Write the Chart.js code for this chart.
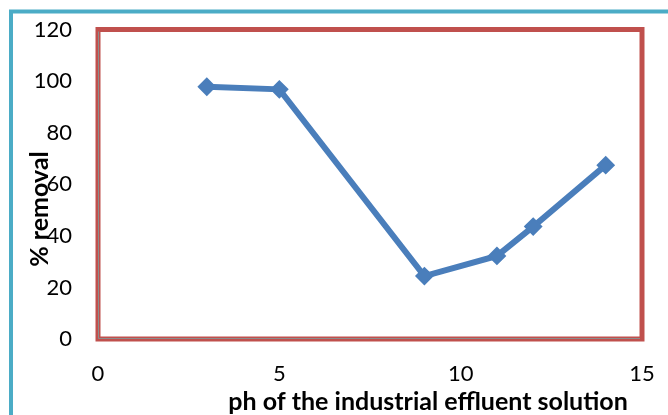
<!DOCTYPE html>
<html>
<head>
<meta charset="utf-8">
<script src="https://cdn.jsdelivr.net/npm/chart.js@4.4.1/dist/chart.umd.min.js"></script>
<style>
  html, body { margin: 0; padding: 0; background: #fff; }
  #wrap { width: 668px; height: 415px; position: relative; }
</style>
</head>
<body>
<div id="wrap"><canvas id="chart" width="668" height="415"></canvas></div>
<script>
// --- DATA ---
const phValues = [3, 5, 9, 11, 12, 14];
const removalValues = [97.8, 96.8, 24.4, 32.2, 43.6, 67.4];
const xTitle = 'ph of the industrial effluent solution';
const yTitle = '% removal';

// frame + titles drawn around the chart area
const framePlugin = {
  id: 'frame',
  beforeDraw(chart) {
    const ctx = chart.ctx;
    ctx.save();
    ctx.fillStyle = '#fff';
    ctx.fillRect(0, 0, chart.width, chart.height);
    // outer cyan border, runs off the right and bottom edges
    ctx.strokeStyle = '#4BACC6';
    ctx.lineWidth = 4;
    ctx.strokeRect(11, 11.5, 720, 480);
    ctx.restore();
  },
  beforeDatasetsDraw(chart) {
    const { ctx, chartArea: a } = chart;
    ctx.save();
    ctx.strokeStyle = '#C0504D';
    ctx.lineWidth = 5;
    ctx.strokeRect(a.left, a.top, a.right - a.left, a.bottom - a.top);
    ctx.strokeStyle = '#8c8c8c';
    ctx.lineWidth = 1;
    ctx.beginPath();
    ctx.moveTo(a.left + 0.5, a.top + 2);
    ctx.lineTo(a.left + 0.5, a.bottom - 0.5);
    ctx.lineTo(a.right - 2, a.bottom - 0.5);
    ctx.stroke();
    ctx.restore();
  },
  afterDraw(chart) {
    const ctx = chart.ctx;
    ctx.save();
    ctx.fillStyle = '#000';
    ctx.font = 'bold 25px Lato';
    ctx.textAlign = 'center';
    ctx.textBaseline = 'alphabetic';
    ctx.fillText(xTitle, 428, 410);
    ctx.translate(48, 209);
    ctx.rotate(-Math.PI / 2);
    ctx.fillText(yTitle, 0, 0);
    ctx.restore();
  }
};

const chartConfig = {
  type: 'line',
  data: {
    datasets: [{
      data: phValues.map((x, i) => ({ x: x, y: removalValues[i] })),
      borderColor: '#4A7EBB',
      backgroundColor: '#4A7EBB',
      borderWidth: 6,
      pointStyle: 'rectRot',
      pointRadius: 8,
      pointBorderWidth: 2,
      pointBorderColor: '#4A7EBB',
      pointBackgroundColor: '#4A7EBB',
      tension: 0,
      fill: false
    }]
  },
  options: {
    responsive: false,
    animation: false,
    layout: { padding: { top: 29.5, right: 26, left: 0, bottom: 0 } },
    plugins: {
      legend: { display: false },
      tooltip: { enabled: false }
    },
    scales: {
      x: {
        type: 'linear',
        min: 0,
        max: 15,
        grid: { display: false, drawTicks: false },
        border: { display: false },
        ticks: {
          stepSize: 5,
          padding: 22,
          color: '#000',
          font: { family: 'Lato', size: 22 },
          maxRotation: 0
        },
        afterFit(scale) {
          scale.height = 76;
          scale.paddingLeft = 0;
          scale.paddingRight = 0;
        }
      },
      y: {
        min: 0,
        max: 120,
        grid: { display: false, drawTicks: false },
        border: { display: false },
        ticks: {
          stepSize: 20,
          padding: 26,
          color: '#000',
          font: { family: 'Lato', size: 22 }
        },
        afterFit(scale) {
          scale.width = 98;
          scale.paddingTop = 0;
          scale.paddingBottom = 0;
        }
      }
    }
  },
  plugins: [framePlugin]
};

new Chart(document.getElementById('chart').getContext('2d'), chartConfig);
</script>
</body>
</html>
